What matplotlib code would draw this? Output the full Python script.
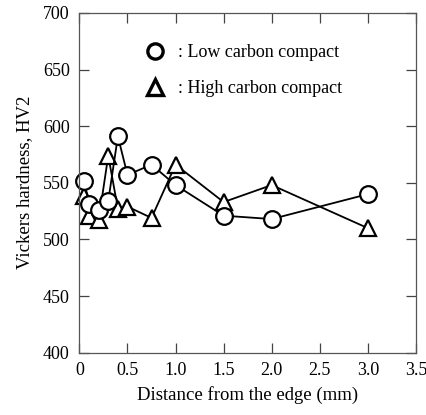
import matplotlib.pyplot as plt
from matplotlib.lines import Line2D

plt.rcParams['font.family'] = ['Liberation Serif', 'DejaVu Serif']

# distance from the edge (mm)
dist = [0.05, 0.1, 0.2, 0.3, 0.4, 0.5, 0.75, 1.0, 1.5, 2.0, 3.0]
# Vickers hardness HV2
low_c = [552, 531, 526, 534, 591, 557, 566, 548, 521, 518, 540]
high_c = [538, 521, 517, 574, 527, 529, 519, 566, 533, 548, 510]

fig = plt.figure(figsize=(4.27, 4.15), dpi=100)
ax = fig.add_axes([0.186, 0.150, 0.788, 0.819])

style = dict(color='black', lw=1.3, mfc='white', mec='black', mew=1.6, clip_on=False)
ax.plot(dist, high_c, marker='^', ms=12, **style)
ax.plot(dist, low_c, marker='o', ms=12, **style)

ax.set_xlim(0, 3.5)
ax.set_ylim(400, 700)
ax.set_xticks([0, 0.5, 1.0, 1.5, 2.0, 2.5, 3.0, 3.5])
ax.set_xticklabels(['0', '0.5', '1.0', '1.5', '2.0', '2.5', '3.0', '3.5'])
ax.set_yticks(range(400, 701, 50))
ax.tick_params(direction='in', length=7, width=0.9, color='#444444',
               top=True, right=True, labelsize=13, pad=7)
for s in ax.spines.values():
    s.set_color('#555555')
    s.set_linewidth(0.9)

ax.set_xlabel('Distance from the edge (mm)', fontsize=13.5, labelpad=5)
ax.set_ylabel('Vickers hardness, HV2', fontsize=13.5, labelpad=7)

handles = [Line2D([], [], ls='none', marker='o', ms=11, mfc='white', mec='black', mew=2.4),
           Line2D([], [], ls='none', marker='^', ms=11, mfc='white', mec='black', mew=2.4)]
ax.legend(handles, [': Low carbon compact', ': High carbon compact'],
          loc='upper left', bbox_to_anchor=(0.175, 0.93), frameon=False,
          fontsize=13, handlelength=1.0, handletextpad=0.8, labelspacing=1.05,
          borderaxespad=0)

fig.savefig('out.png', dpi=100)
